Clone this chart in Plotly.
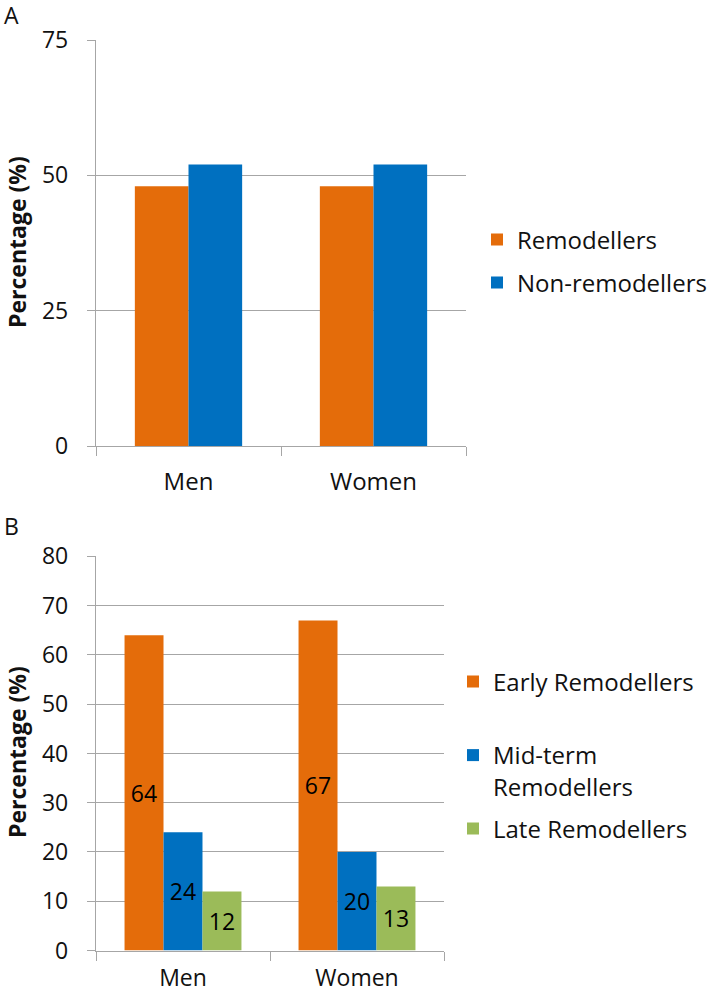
import plotly.graph_objects as go

W, H = 709, 996

categories = ["Men", "Women"]

# Panel A
a_remodellers = [48, 48]
a_nonremodellers = [52, 52]

# Panel B
b_early = [64, 67]
b_mid = [24, 20]
b_late = [12, 13]
b_names = ["Early Remodellers", "Mid-term<br>Remodellers", "Late Remodellers"]

y_ticks_a = [0, 25, 50, 75]
y_ticks_b = [0, 10, 20, 30, 40, 50, 60, 70, 80]

ORANGE = "#E46C0A"
BLUE = "#0070C0"
GREEN = "#9BBB59"
GRID = "#A6A6A6"
TXT = "#111111"
FONT = "Open Sans"


def px(v):
    return v / W


def py(v):
    return 1 - v / H


fig = go.Figure()

# Panel A bars
wa = 0.29
fig.add_trace(go.Bar(x=categories, y=a_remodellers, name="Remodellers",
                     marker=dict(color=ORANGE, line=dict(width=0)),
                     width=wa, offset=-wa, xaxis="x", yaxis="y",
                     legend="legend"))
fig.add_trace(go.Bar(x=categories, y=a_nonremodellers, name="Non-remodellers",
                     marker=dict(color=BLUE, line=dict(width=0)),
                     width=wa, offset=0, xaxis="x", yaxis="y",
                     legend="legend2"))

# Panel B bars
wb = 0.224
tf = dict(color="black", size=23, family=FONT)
for vals, name, col, off, lg in [
    (b_early, b_names[0], ORANGE, -1.5 * wb, "legend3"),
    (b_mid, b_names[1], BLUE, -0.5 * wb, "legend4"),
    (b_late, b_names[2], GREEN, 0.5 * wb, "legend5"),
]:
    fig.add_trace(go.Bar(x=categories, y=vals, name=name,
                         marker=dict(color=col, line=dict(width=0)),
                         width=wb, offset=off, xaxis="x2", yaxis="y2",
                         text=[str(v) for v in vals], textposition="inside",
                         insidetextanchor="middle", textangle=0,
                         insidetextfont=tf, constraintext="none",
                         legend=lg))

xtickfont = dict(size=24, color=TXT, family=FONT)
ytickfont = dict(size=23, color=TXT, family=FONT)
axis_common = dict(showgrid=False, showline=True, linecolor=GRID, linewidth=1.3,
                   ticks="outside", tickcolor=GRID, ticklen=9, tickwidth=1.3,
                   tickson="boundaries",
                   automargin=False, fixedrange=True)
yaxis_common = dict(showgrid=True, gridcolor=GRID, gridwidth=1.3, showline=True,
                    linecolor=GRID, linewidth=1.3, ticks="outside", tickcolor=GRID,
                    ticklen=8, tickwidth=1.3, zeroline=False, tickfont=ytickfont,
                    ticklabelstandoff=14, automargin=False, fixedrange=True)

leg_font = dict(size=24, color=TXT, family=FONT)


def legend_at(xpx, ypx, valign="middle"):
    return dict(x=px(xpx), y=py(ypx), xanchor="left", yanchor="middle",
                font=leg_font, bgcolor="rgba(0,0,0,0)", borderwidth=0,
                valign=valign, itemclick=False, itemdoubleclick=False)


fig.update_layout(
    width=W, height=H,
    margin=dict(l=0, r=0, t=0, b=0, autoexpand=False),
    paper_bgcolor="white", plot_bgcolor="white",
    barmode="overlay",
    font=dict(family=FONT, color=TXT),
    xaxis=dict(domain=[px(96), px(466)], anchor="y", ticklabelstandoff=14,
               tickfont=xtickfont, **axis_common),
    yaxis=dict(domain=[py(446), py(40)], anchor="x", range=[0, 75],
               tickvals=y_ticks_a, **yaxis_common),
    xaxis2=dict(domain=[px(96), px(444)], anchor="y2", ticklabelstandoff=7,
                tickfont=dict(size=23, color=TXT, family=FONT), **axis_common),
    yaxis2=dict(domain=[py(950.5), py(556.4)], anchor="x2", range=[0, 80],
                tickvals=y_ticks_b, **yaxis_common),
    legend=legend_at(477, 240),
    legend2=legend_at(477, 283),
    legend3=legend_at(453, 682),
    legend4=legend_at(453, 771, valign="top"),
    legend5=legend_at(453, 829),
    showlegend=True,
    annotations=[
        dict(text="A", x=px(2), y=py(15), xref="paper", yref="paper",
             xanchor="left", yanchor="middle", showarrow=False,
             font=dict(size=23, color=TXT, family=FONT)),
        dict(text="B", x=px(2), y=py(526), xref="paper", yref="paper",
             xanchor="left", yanchor="middle", showarrow=False,
             font=dict(size=23, color=TXT, family=FONT)),
        dict(text="<b>Percentage (%)</b>", x=px(17), y=py(242), xref="paper",
             yref="paper", xanchor="center", yanchor="middle", showarrow=False,
             textangle=-90, font=dict(size=23, color=TXT, family=FONT)),
        dict(text="<b>Percentage (%)</b>", x=px(17), y=py(752), xref="paper",
             yref="paper", xanchor="center", yanchor="middle", showarrow=False,
             textangle=-90, font=dict(size=23, color=TXT, family=FONT)),
    ],
)

# Remove the page's default body margin so the 709x996 figure fills the window
fig.write_html(
    "out.html",
    config={"displayModeBar": False},
    post_script="document.body.style.margin='0';document.body.style.overflow='hidden';",
)
